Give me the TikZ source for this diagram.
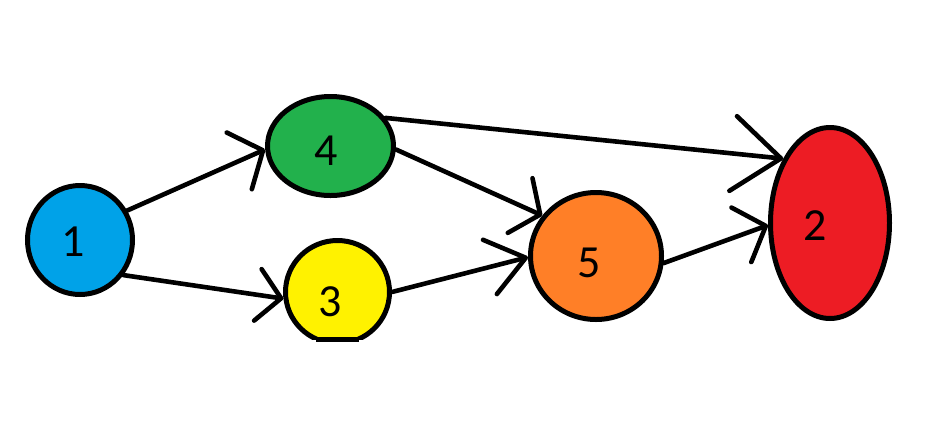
\documentclass[tikz,border=0pt]{standalone}
\usepackage{fontspec}
\setmainfont{Carlito}
\usetikzlibrary{arrows.meta,shapes.geometric}
\definecolor{pblue}{HTML}{00A2E8}
\definecolor{pgreen}{HTML}{22B14C}
\definecolor{pyellow}{HTML}{FFF200}
\definecolor{porange}{HTML}{FF7F27}
\definecolor{pred}{HTML}{ED1C24}
\begin{document}
\begin{tikzpicture}[x=1pt,y=-1pt,
  state/.style={ellipse, draw=black, line width=5pt, inner sep=0pt},
  lab/.style={font=\fontsize{46}{46}\selectfont, inner sep=0pt},
  arr/.style={draw=black, line width=4.6pt, line cap=round}]
\useasboundingbox (0,0) rectangle (940,440);
\node[state, fill=pblue, minimum width=105pt, minimum height=109pt] (n1) at (80,240) {};
\node[state, fill=pgreen, minimum width=126pt, minimum height=99pt] (n4) at (330.5,146) {};
\begin{scope}
  \clip (0,0) rectangle (940,339);
  \node[state, fill=pyellow, minimum width=104pt, minimum height=103pt] (n3) at (337.5,292) {};
\end{scope}
\draw[line width=5pt] (315.6,339) -- (359.4,339);
\node[state, fill=porange, minimum width=131pt, minimum height=127pt] (n5) at (596,256) {};
\node[state, fill=pred, minimum width=119pt, minimum height=191pt] (n2) at (830,223) {};
\node[lab] (t1) at (73,242) {1};
\node[lab] (t4) at (326,151) {4};
\node[lab] (t3) at (330,302) {3};
\node[lab] (t5) at (589,263) {5};
\node[lab] (t2) at (815,226) {2};
\draw[arr, -{Straight Barb[length=26pt,width=62pt,round]}] (n1.32) -- (n4.183);
\draw[arr, -{Straight Barb[length=23.5pt,width=52pt,round]}] (n1.321) -- (n3.187);
\draw[arr, -{Straight Barb[length=48pt,width=75pt,round]}] (n4.27) -- (n2.126);
\draw[arr, -{Straight Barb[length=22pt,width=60pt,round]}] (n4.357) -- (n5.143);
\draw[arr, -{Straight Barb[length=37pt,width=56pt,round]}] (n3.0) -- (n5.181);
\draw[arr, -{Straight Barb[length=26pt,width=58pt,round]}] (n5.354) -- (n2.182);
\end{tikzpicture}
\end{document}
